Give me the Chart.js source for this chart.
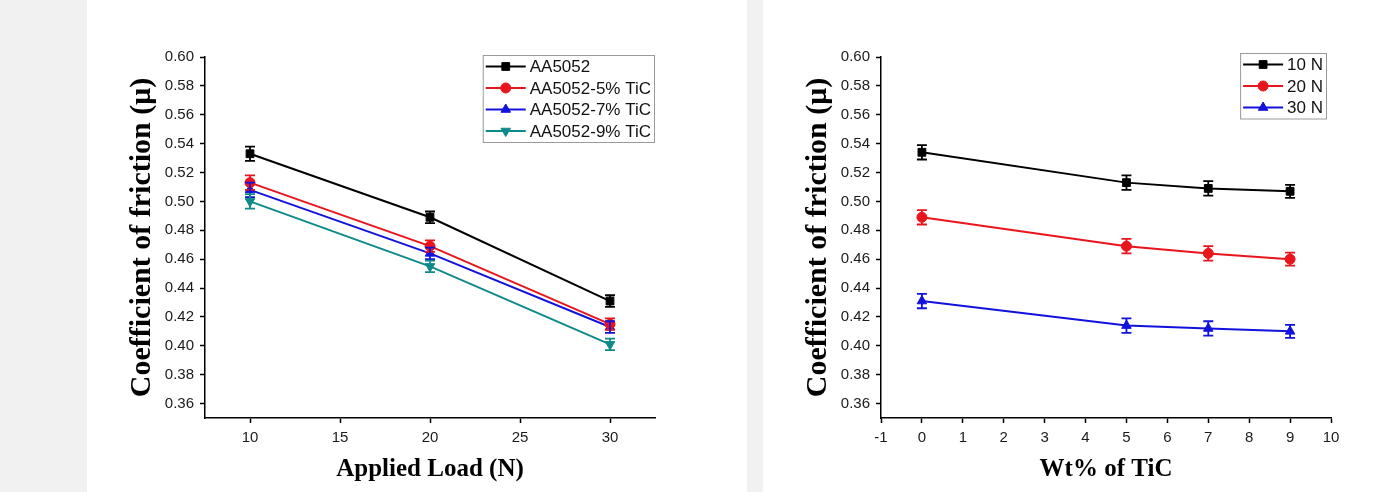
<!DOCTYPE html>
<html>
<head>
<meta charset="utf-8">
<script src="https://cdn.jsdelivr.net/npm/chart.js@4.4.1/dist/chart.umd.min.js"></script>
<style>
  html, body { margin: 0; padding: 0; background: #f1f1f1; width: 1381px; height: 492px; overflow: hidden; }
  .panel { position: absolute; top: 0; height: 492px; background: #fff; }
  #p1 { left: 87px; width: 660px; }
  #p2 { left: 763px; width: 618px; }
</style>
</head>
<body>
<div class="panel" id="p1"><canvas id="loadChart" width="660" height="492"></canvas></div>
<div class="panel" id="p2"><canvas id="wtChart" width="618" height="492"></canvas></div>
<script>
// tick labels
const yTicks = [0.36, 0.38, 0.40, 0.42, 0.44, 0.46, 0.48, 0.50, 0.52, 0.54, 0.56, 0.58, 0.60];
const loadTicks = [10, 15, 20, 25, 30];
const wtTicks = [-1, 0, 1, 2, 3, 4, 5, 6, 7, 8, 9, 10];

// left chart: friction vs applied load
const loads = [10, 20, 30];
const aa5052 = [0.533, 0.489, 0.431];
const aa5052Err = [0.005, 0.004, 0.004];
const tic5 = [0.513, 0.469, 0.415];
const tic5Err = [0.005, 0.004, 0.004];
const tic7 = [0.508, 0.464, 0.413];
const tic7Err = [0.005, 0.004, 0.004];
const tic9 = [0.500, 0.455, 0.401];
const tic9Err = [0.005, 0.004, 0.004];

// right chart: friction vs wt% TiC
const wtPercent = [0, 5, 7, 9];
const n10 = [0.534, 0.513, 0.509, 0.507];
const n10Err = [0.005, 0.005, 0.005, 0.0045];
const n20 = [0.489, 0.469, 0.464, 0.460];
const n20Err = [0.005, 0.005, 0.005, 0.0045];
const n30 = [0.431, 0.414, 0.412, 0.410];
const n30Err = [0.005, 0.005, 0.005, 0.0045];

const BLACK = '#000000', RED = '#e8161c', BLUE = '#1212dc', TEAL = '#0f8a8a';

function pairs(xs, ys) {
    return xs.map((x, i) => ({ x: x, y: ys[i] }));
}

function series(label, xs, ys, errs, color, style, rotation) {
    return {
        label: label,
        data: pairs(xs, ys),
        errors: errs,
        borderColor: color,
        backgroundColor: color,
        borderWidth: 2,
        pointStyle: style,
        pointRotation: rotation || 0,
        pointRadius: style === 'circle' ? 5 : 5.5,
        pointBorderWidth: 1,
        tension: 0
    };
}

// vertical error bars with caps
const errorBars = {
    id: 'errorBars',
    afterDatasetsDraw(chart) {
        const ctx = chart.ctx;
        const yScale = chart.scales.y;
        chart.data.datasets.forEach((ds, i) => {
            const meta = chart.getDatasetMeta(i);
            ctx.save();
            ctx.strokeStyle = ds.borderColor;
            ctx.lineWidth = 1.8;
            meta.data.forEach((pt, j) => {
                const v = ds.data[j].y, e = ds.errors[j];
                const top = yScale.getPixelForValue(v + e);
                const bot = yScale.getPixelForValue(v - e);
                ctx.beginPath();
                ctx.moveTo(pt.x, top); ctx.lineTo(pt.x, bot);
                ctx.moveTo(pt.x - 5, top); ctx.lineTo(pt.x + 5, top);
                ctx.moveTo(pt.x - 5, bot); ctx.lineTo(pt.x + 5, bot);
                ctx.stroke();
            });
            ctx.restore();
        });
    }
};

// boxed legend drawn inside the plot, top right
const insideLegend = {
    id: 'insideLegend',
    afterDraw(chart, args, opts) {
        const ctx = chart.ctx;
        const area = chart.chartArea;
        const sets = chart.data.datasets;
        ctx.save();
        ctx.font = '17px "Liberation Sans", Arial, sans-serif';
        let textW = 0;
        sets.forEach(ds => { textW = Math.max(textW, ctx.measureText(ds.label).width); });
        const rowH = 21.5;
        const w = 3 + 40 + 4 + textW + 3;
        const h = sets.length * rowH + 1;
        const x0 = area.right + opts.dx - w;
        const y0 = area.top + opts.dy;
        ctx.fillStyle = '#fff';
        ctx.fillRect(x0, y0, w, h);
        ctx.strokeStyle = '#9a9a9a';
        ctx.lineWidth = 1;
        ctx.strokeRect(x0 + 0.5, y0 + 0.5, w, h);
        sets.forEach((ds, i) => {
            const cy = y0 + 11.5 + i * rowH;
            ctx.strokeStyle = ds.borderColor;
            ctx.fillStyle = ds.backgroundColor;
            ctx.lineWidth = 2;
            ctx.beginPath();
            ctx.moveTo(x0 + 3, cy); ctx.lineTo(x0 + 43, cy);
            ctx.stroke();
            ctx.lineWidth = 1;
            Chart.helpers.drawPoint(ctx, {
                pointStyle: ds.pointStyle,
                rotation: ds.pointRotation,
                radius: ds.pointRadius,
                borderWidth: 1
            }, x0 + 23, cy);
            ctx.fillStyle = '#111';
            ctx.textBaseline = 'middle';
            ctx.textAlign = 'left';
            ctx.fillText(ds.label, x0 + 47, cy + 1);
        });
        ctx.restore();
    }
};

function axisCommon() {
    return {
        border: { display: true, color: '#000', width: 1.5 },
        grid: { drawOnChartArea: false, drawTicks: true, tickLength: 5, tickWidth: 1.5, tickColor: '#000' },
        ticks: { color: '#1a1a1a', font: { family: '"Liberation Sans", Arial, sans-serif', size: 15 } }
    };
}

function makeChart(id, datasets, xMin, xMax, xTicks, xTitle, padRight, legendPos) {
    const xAxis = axisCommon();
    xAxis.type = 'linear';
    xAxis.min = xMin;
    xAxis.max = xMax;
    xAxis.ticks.padding = 6;
    xAxis.afterBuildTicks = scale => { scale.ticks = xTicks.map(v => ({ value: v })); };
    xAxis.afterFit = scale => { scale.height = 74; };
    xAxis.title = {
        display: true, text: xTitle, color: '#000',
        font: { family: '"Liberation Serif", "Times New Roman", serif', size: 25, weight: 'bold' },
        padding: { top: 0, bottom: 7 }
    };

    const yAxis = axisCommon();
    yAxis.min = 0.35;
    yAxis.max = 0.60;
    yAxis.ticks.padding = 6;
    yAxis.ticks.callback = v => v.toFixed(2);
    yAxis.afterBuildTicks = scale => { scale.ticks = yTicks.map(v => ({ value: v })); };
    yAxis.afterFit = scale => { scale.width = 118; };
    yAxis.title = {
        display: true, text: 'Coefficient of friction (μ)', color: '#000',
        font: { family: '"Liberation Serif", "Times New Roman", serif', size: 30, weight: 'bold' },
        padding: { top: 37, bottom: 0 }
    };

    return new Chart(document.getElementById(id), {
        type: 'line',
        data: { datasets: datasets },
        options: {
            responsive: false,
            animation: false,
            devicePixelRatio: 1,
            layout: { padding: { top: 57, right: padRight, bottom: 0, left: 0 } },
            scales: { x: xAxis, y: yAxis },
            plugins: {
                legend: { display: false },
                tooltip: { enabled: false },
                insideLegend: legendPos
            }
        },
        plugins: [errorBars, insideLegend]
    });
}

makeChart('loadChart', [
    series('AA5052', loads, aa5052, aa5052Err, BLACK, 'rect'),
    series('AA5052-5% TiC', loads, tic5, tic5Err, RED, 'circle'),
    series('AA5052-7% TiC', loads, tic7, tic7Err, BLUE, 'triangle'),
    series('AA5052-9% TiC', loads, tic9, tic9Err, TEAL, 'triangle', 180)
], 7.5, 32.5, loadTicks, 'Applied Load (N)', 92, { dx: -1, dy: -2 });

makeChart('wtChart', [
    series('10 N', wtPercent, n10, n10Err, BLACK, 'rect'),
    series('20 N', wtPercent, n20, n20Err, RED, 'circle'),
    series('30 N', wtPercent, n30, n30Err, BLUE, 'triangle')
], -1, 10, wtTicks, 'Wt% of TiC', 50, { dx: -5, dy: -4 });
</script>
</body>
</html>
